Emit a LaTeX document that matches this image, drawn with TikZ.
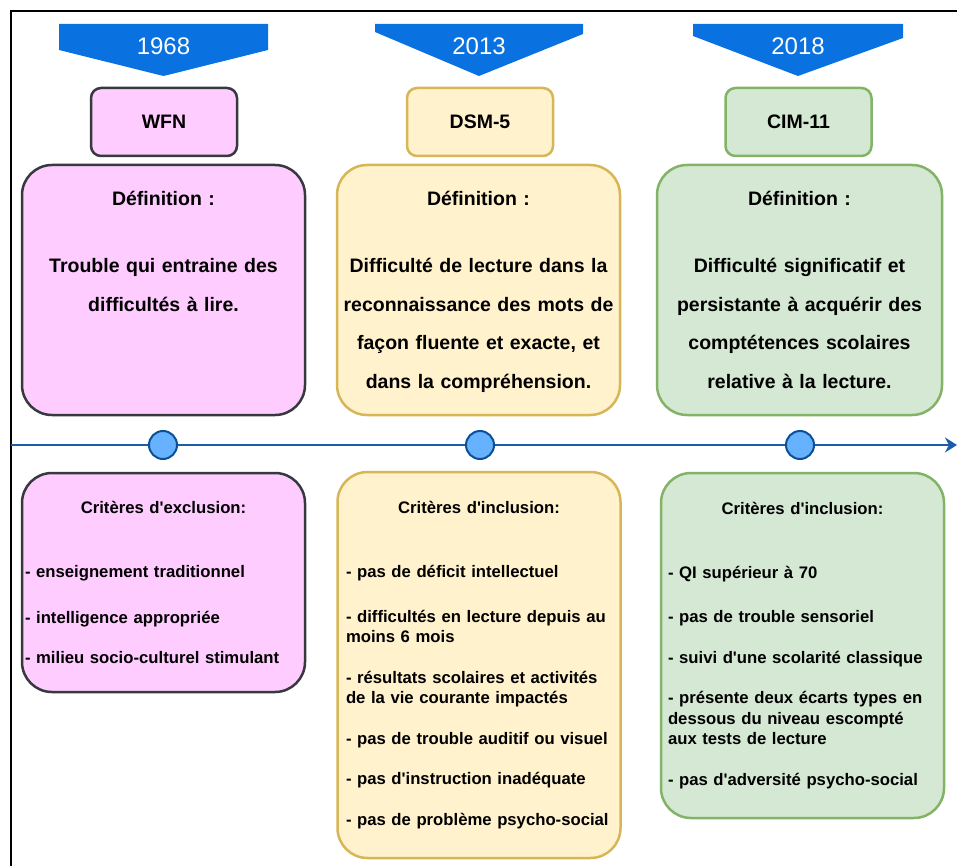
\documentclass[tikz,border=0pt]{standalone}
\usepackage{fontspec}
\setmainfont{Liberation Sans}
\usetikzlibrary{arrows.meta,positioning}
\usepackage{xcolor}
\setlength{\parindent}{0pt}
\setlength{\parskip}{0pt}

\definecolor{bannerblue}{HTML}{0A72E0}
\definecolor{pinkfill}{HTML}{FFCCFF}
\definecolor{pinkline}{HTML}{36393D}
\definecolor{yellowfill}{HTML}{FFF2CC}
\definecolor{yellowline}{HTML}{D6B656}
\definecolor{greenfill}{HTML}{D5E8D4}
\definecolor{greenline}{HTML}{82B366}
\definecolor{dotfill}{HTML}{66B2FF}
\definecolor{dotline}{HTML}{0B4F96}
\definecolor{axisblue}{HTML}{1C5CAA}

\newcommand{\ap}{\textquotesingle}

\begin{document}
\begin{tikzpicture}[x=1pt,y=-1pt]
\tikzstyle{banner} = [fill=bannerblue]
\tikzstyle{year} = [text=white, font=\fontsize{24}{24}\selectfont]
\tikzstyle{head} = [draw, rounded corners=10pt, line width=2.5pt, minimum width=146pt, minimum height=68pt, font=\fontsize{19.5}{19.5}\selectfont\bfseries]
\tikzstyle{defbox} = [draw, rounded corners=30pt, line width=2.5pt, text width=283pt, inner sep=0pt, text height=41pt, text depth=209pt, align=center, font=\fontsize{19.5}{38.5}\selectfont\bfseries]
\tikzstyle{critbox} = [draw, rounded corners=30pt, line width=2.5pt, minimum width=283pt, text width=268pt, inner xsep=0pt, align=left, font={\fontsize{16.7}{20.5}\selectfont\bfseries\hyphenpenalty 10000 }]
\tikzstyle{dot} = [circle, draw=dotline, fill=dotfill, line width=2pt, minimum size=28pt, inner sep=0pt]
\useasboundingbox (0,0) rectangle (957,866);

% frame
\draw[line width=2pt] (11,866) -- (11,11) -- (957,11);

% years
\fill[banner] (59,24) -- (268,24) -- (268,50) -- (163.5,76) -- (59,50) -- cycle;
\fill[banner] (375,24) -- (583,24) -- (583,34) -- (479,76) -- (375,32) -- cycle;
\fill[banner] (693,24) -- (903,24) -- (903,38) -- (798,76) -- (693,36) -- cycle;
\node[year] at (163.5,46) (y1968) {1968};
\node[year] at (479,46) (y2013) {2013};
\node[year] at (798,46) (y2018) {2018};

\node[head, fill=pinkfill, draw=pinkline] at (164,122) (wfn) {WFN};
\node[head, fill=yellowfill, draw=yellowline] at (480,122) (dsm) {DSM-5};
\node[head, fill=greenfill, draw=greenline] at (798.5,122) (cim) {CIM-11};

% definitions
\node[defbox, fill=pinkfill, draw=pinkline] at (163.5,290) (defwfn) {D\'efinition :\\[28.5pt] Trouble qui entraine des\\ difficult\'es \`a lire.};
\node[defbox, fill=yellowfill, draw=yellowline] at (478.5,290) (defdsm) {D\'efinition :\\[28.5pt] Difficult\'e de lecture dans la\\ reconnaissance des mots de\\ fa\c{c}on fluente et exacte, et\\ dans la compr\'ehension.};
\node[defbox, fill=greenfill, draw=greenline, text width=285pt] at (799.5,290) (defcim) {D\'efinition :\\[28.5pt] Difficult\'e significatif et\\ persistante \`a acqu\'erir des\\ compt\'etences scolaires\\ relative \`a la lecture.};

% timeline
\coordinate (tstart) at (11,445);
\coordinate (tend) at (957,445);
\draw[axisblue, line width=2pt, -{Stealth[length=12pt,width=15pt]}] (tstart) -- (tend);
\node[dot] at (163,445) (d1968) {};
\node[dot] at (480,445) (d2013) {};
\node[dot] at (800,445) (d2018) {};

% criteria
\node[critbox, fill=pinkfill, draw=pinkline, text width=277pt, minimum height=219pt] at (163.5,582.5) (critwfn) {{\centering Crit\`eres d\ap exclusion:\par}\vspace{43.5pt}- enseignement traditionnel\\[25pt] - intelligence appropri\'ee\\[19.5pt] - milieu socio-culturel stimulant};
\node[critbox, fill=yellowfill, draw=yellowline, text width=266pt, minimum height=386pt] at (479,665) (critdsm) {{\centering Crit\`eres d\ap inclusion:\par}\vspace{43.5pt}- pas de d\'eficit intellectuel\\[24pt] - difficult\'es en lecture depuis au\\ moins 6 mois\\[20pt] - r\'esultats scolaires et activit\'es\\ de la vie courante impact\'es\\[20pt] - pas de trouble auditif ou visuel\\[20pt] - pas d\ap instruction inad\'equate\\[20pt] - pas de probl\`eme psycho-social};
\node[critbox, fill=greenfill, draw=greenline, text width=269pt, minimum height=345pt] at (802.5,645.5) (critcim) {{\centering Crit\`eres d\ap inclusion:\par}\vspace{43.5pt}- QI sup\'erieur \`a 70\\[24pt] - pas de trouble sensoriel\\[20pt] - suivi d\ap une scolarit\'e classique\\[20pt] - pr\'esente deux \'ecarts types en\\ dessous du niveau escompt\'e\\ aux tests de lecture\\[20pt] - pas d\ap adversit\'e psycho-social};
\end{tikzpicture}
\end{document}
